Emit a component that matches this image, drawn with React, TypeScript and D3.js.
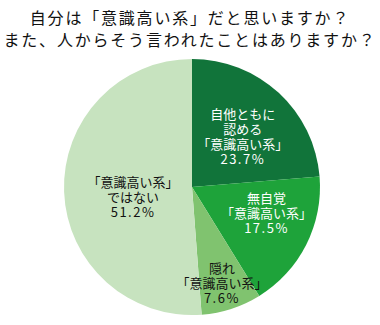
import { useEffect, useRef } from 'react';
import * as d3 from 'd3';

const titleLines = ['自分は「意識高い系」だと思いますか？', 'また、人からそう言われたことはありますか？'];
const categories = [
  ['自他ともに', '認める', '「意識高い系」'],
  ['無自覚', '「意識高い系」'],
  ['隠れ', '「意識高い系」'],
  ['「意識高い系」', 'ではない'],
];
const values = [23.7, 17.5, 7.6, 51.2];
const colors = ['#11743a', '#1ea33a', '#80c36f', '#c7e3bf'];
const textColors = ['#ffffff', '#ffffff', '#111111', '#111111'];

// label placement: radius of the anchor point + pixel nudge
const labelLayout = [
  { r: 72, dx: 2, dy: 2 },
  { r: 79, dx: 4, dy: -10 },
  { r: 100, dx: -1, dy: 0 },
  { r: 60, dx: 1, dy: 7 },
];

const FONT = '"Noto Sans CJK JP", "Noto Sans", sans-serif';

export default function App() {
  const svgRef = useRef<SVGSVGElement>(null);

  useEffect(() => {
    document.body.style.margin = '0';
    if (!svgRef.current) return;
    const svg = d3.select(svgRef.current);
    svg.selectAll('*').remove();

    const width = 380;
    const height = 325;
    const cx = 192;
    const cy = 187;
    const radius = 128;

    svg.attr('width', width).attr('height', height);

    svg.append('g')
      .selectAll('text')
      .data(titleLines)
      .enter().append('text')
      .attr('x', width / 2)
      .attr('y', (_, i) => 24 + i * 22)
      .attr('text-anchor', 'middle')
      .attr('font-family', FONT)
      .attr('font-size', 16)
      .attr('letter-spacing', 1.8)
      .attr('fill', '#111')
      .text((d) => d);

    const data = values.map((v, i) => ({ value: v, lines: categories[i], i }));
    const pie = d3.pie<typeof data[0]>().value((d) => d.value).sort(null);
    const arcs = pie(data);
    const arcGen = d3.arc<d3.PieArcDatum<typeof data[0]>>().innerRadius(0).outerRadius(radius);

    const g = svg.append('g').attr('transform', `translate(${cx},${cy})`);

    g.selectAll('path')
      .data(arcs)
      .enter().append('path')
      .attr('d', arcGen)
      .attr('fill', (d) => colors[d.data.i]);

    const labels = g.selectAll('g.label')
      .data(arcs)
      .enter().append('g')
      .attr('class', 'label')
      .attr('transform', (d) => {
        const L = labelLayout[d.data.i];
        const [x, y] = d3.arc<d3.PieArcDatum<typeof data[0]>>().innerRadius(L.r).outerRadius(L.r).centroid(d);
        return `translate(${x + L.dx},${y + L.dy})`;
      });

    labels.each(function (d) {
      const lines = [...d.data.lines, `${d.data.value.toFixed(1)}%`];
      const lh = 15;
      const top = -((lines.length - 1) * lh) / 2;
      d3.select(this).selectAll('text')
        .data(lines)
        .enter().append('text')
        .attr('x', 0)
        .attr('y', (_, j) => top + j * lh)
        .attr('dominant-baseline', 'central')
        .attr('text-anchor', 'middle')
        .attr('font-family', FONT)
        .attr('font-size', 13)
        .attr('letter-spacing', (t) => (t.endsWith('%') ? 1.5 : 0))
        .attr('fill', textColors[d.data.i])
        .text((t) => t);
    });
  }, []);

  return <svg ref={svgRef} style={{ display: 'block' }} />;
}
